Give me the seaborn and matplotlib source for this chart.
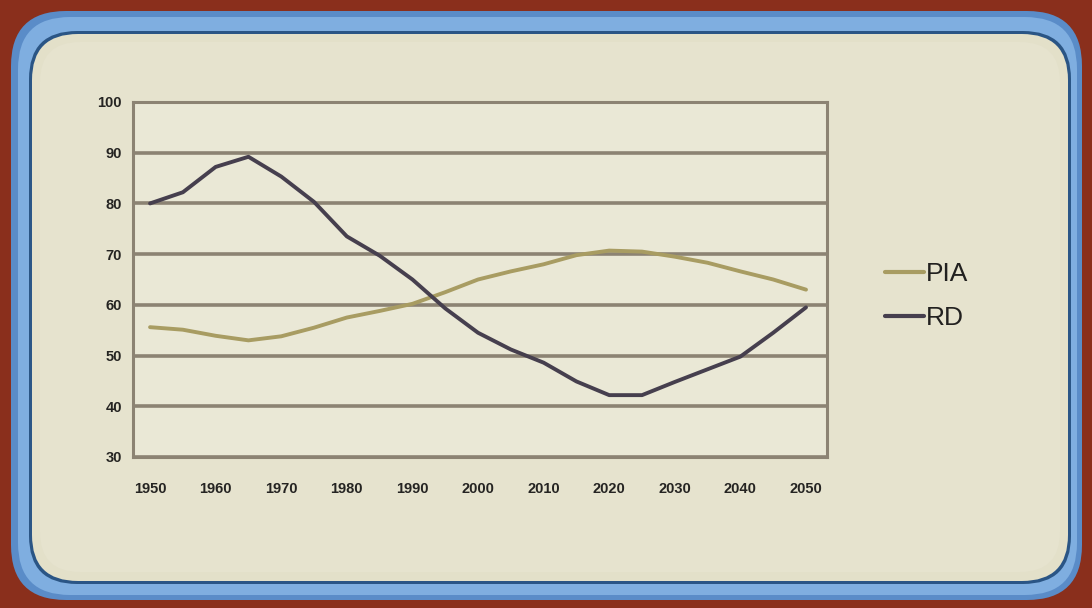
import matplotlib
matplotlib.use("Agg")
import numpy as np
import pandas as pd
import matplotlib.pyplot as plt
import seaborn as sns
from matplotlib.patches import FancyBboxPatch
from matplotlib.ticker import MultipleLocator
from matplotlib.lines import Line2D

# ---- data ----
years = list(range(1950, 2051, 5))
pia = [55.6, 55.1, 53.9, 53.0, 53.8, 55.5, 57.5, 58.8, 60.2, 62.5, 65.0,
       66.6, 68.0, 69.8, 70.7, 70.5, 69.5, 68.3, 66.6, 65.0, 63.0]
rd = [80.0, 82.2, 87.2, 89.2, 85.3, 80.3, 73.5, 69.7, 65.0, 59.3, 54.5,
      51.2, 48.6, 44.9, 42.2, 42.2, 44.8, 47.3, 49.8, 54.5, 59.5]
series_names = ["PIA", "RD"]
series_colors = ["#A89C62", "#463F4E"]
x_ticks = list(range(1950, 2051, 10))
y_ticks = list(range(30, 101, 10))

df = pd.DataFrame({
    "year": years * 2,
    "value": pia + rd,
    "series": [series_names[0]] * len(years) + [series_names[1]] * len(years),
})

sns.set_style("white")
plt.rcParams["font.family"] = ["Liberation Sans", "DejaVu Sans"]

W, H = 1092, 608
fig = plt.figure(figsize=(W / 100, H / 100), dpi=100)
fig.patch.set_facecolor("#8A2F1C")


def rbox(x0, y0, x1, y1, r, fc, ec="none", lw=0, z=0):
    # image-pixel coords (top-left origin) -> display coords
    p = FancyBboxPatch((x0, H - y1), x1 - x0, y1 - y0,
                       boxstyle=f"round,pad=0,rounding_size={r}",
                       transform=None, facecolor=fc, edgecolor=ec,
                       linewidth=lw, zorder=z)
    fig.add_artist(p)


# decorative frame
rbox(11, 11, 1082, 600, 55, "#5A8CC8", z=0)
rbox(18, 17, 1077, 595, 52, "#7FAEE0", z=0)
rbox(29, 31, 1071, 584, 48, "#2A5585", z=0)
rbox(32, 34, 1068, 581, 46, "#E3E0C9", z=0)
rbox(40, 42, 1060, 572, 40, "#E6E3CE", z=0)

ax = fig.add_axes([133 / W, (H - 457) / H, (827 - 133) / W, (457 - 102) / H])
ax.set_facecolor("#EAE8D6")

sns.lineplot(data=df, x="year", y="value", hue="series",
             palette=dict(zip(series_names, series_colors)),
             linewidth=2.8, ax=ax, legend=False, zorder=3)

ax.set_xlim(1947.4, 2053.2)
ax.set_ylim(30, 100)
ax.set_xticks(x_ticks)
ax.set_yticks(y_ticks)
ax.xaxis.set_minor_locator(MultipleLocator(5))
ax.set_xlabel("")
ax.set_ylabel("")

grid_c = "#8C8373"
for v in y_ticks:
    ax.axhline(v, color=grid_c, linewidth=2.6, zorder=1)
for s in ax.spines.values():
    s.set_color(grid_c)
    s.set_linewidth(2.2)

ax.tick_params(axis="both", which="both", colors=grid_c, length=4, width=1.2,
               direction="out", labelcolor="#252422", labelsize=10.5)
ax.tick_params(axis="x", which="major", pad=14)
ax.tick_params(axis="x", which="minor", pad=14)
ax.tick_params(axis="y", pad=4)
for lab in ax.get_xticklabels() + ax.get_yticklabels():
    lab.set_fontweight("bold")

handles = [Line2D([0], [0], color=c, linewidth=3) for c in series_colors]
leg = fig.legend(handles, series_names, loc="center left",
                 bbox_to_anchor=(861 / W, 1 - 296 / H), frameon=False,
                 fontsize=19, handlelength=1.5, handletextpad=0.05,
                 labelspacing=0.75)
for t in leg.get_texts():
    t.set_color("#222120")

fig.savefig("out.png", dpi=100, facecolor=fig.get_facecolor())
